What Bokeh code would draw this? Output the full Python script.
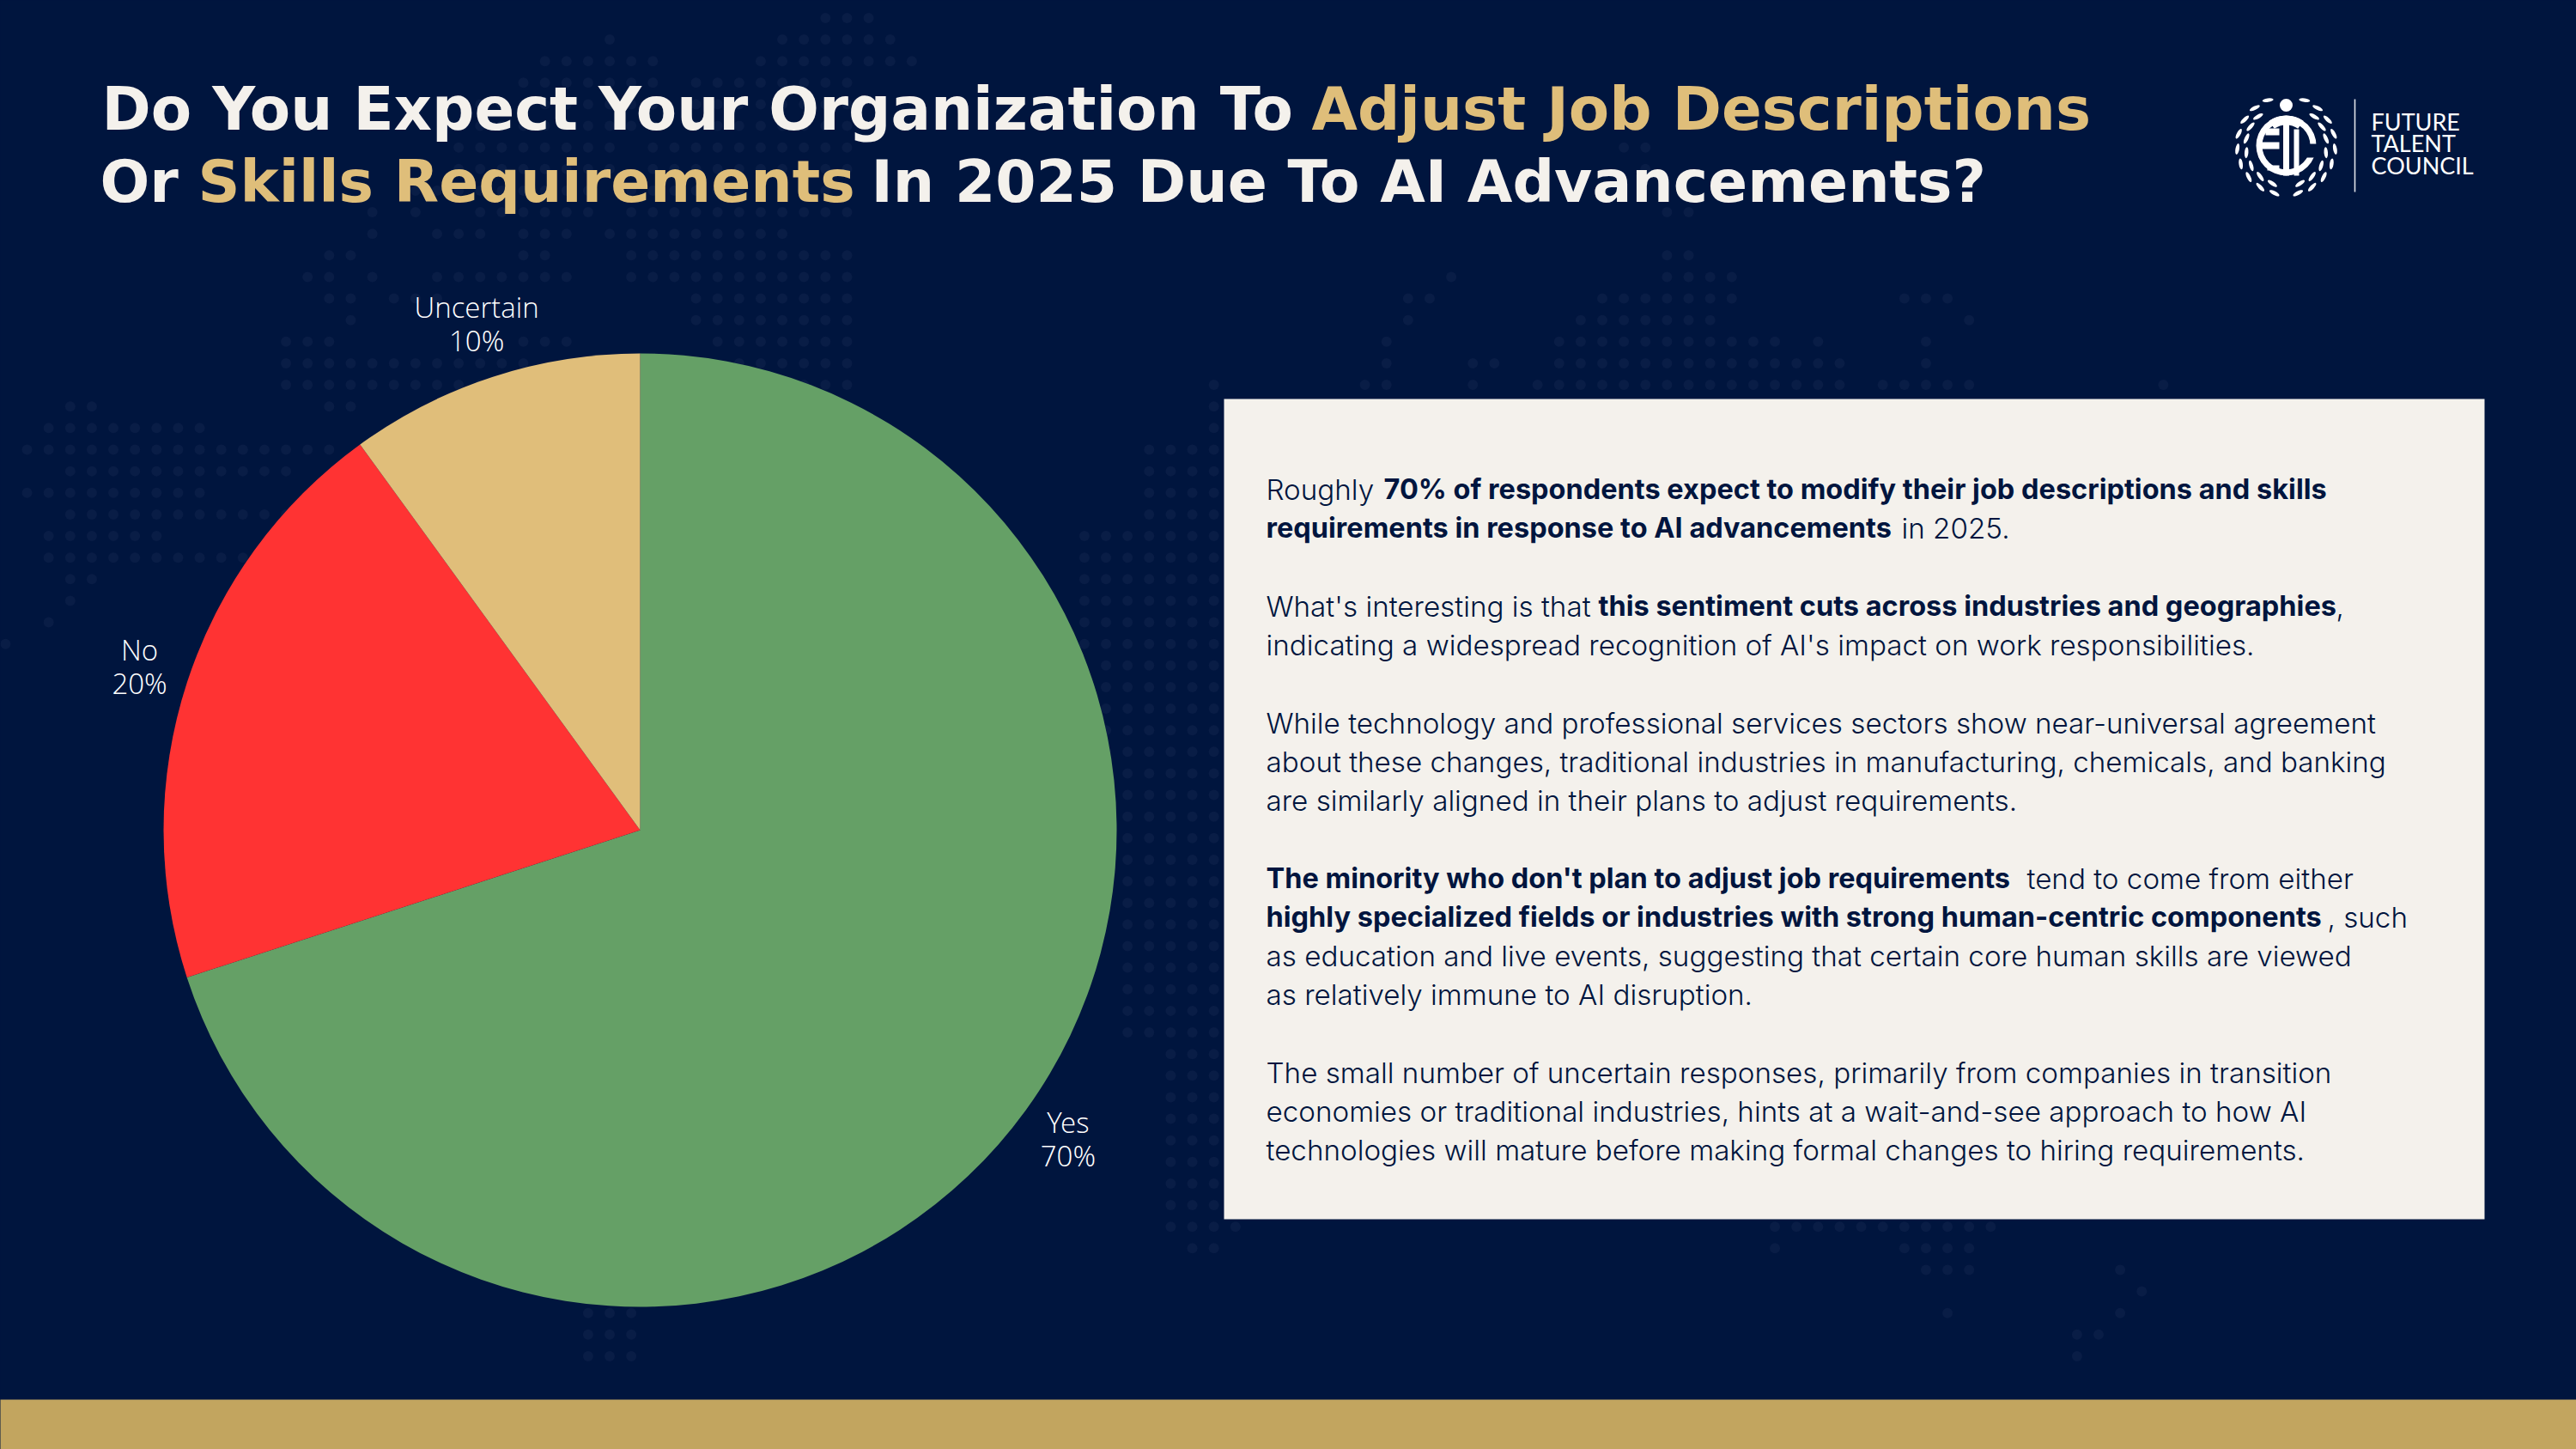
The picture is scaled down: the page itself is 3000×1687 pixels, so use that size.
import numpy as np
from bokeh.plotting import figure
from bokeh.embed import file_html
from bokeh.resources import INLINE
from bokeh.core.properties import value
from bokeh.models import ColumnDataSource

# ---- chart data ----
categories = ["Yes", "No", "Uncertain"]
shares = [70, 20, 10]
slice_colors = ["#65a066", "#ff3333", "#e0be7a"]
label_nudge = [(0, 2), (3, 0), (0, 3)]

BG = "#00153e"; CREAM = "#f4f1ec"; GOLD = "#dfbe7a"; BAND = "#c2a55f"; DOT = "#091d46"
W, H = 3000, 1687
def Y(py): return H - py

# (text, x, baseline, colour, size)
title_runs = [
    ("Do You Expect Your Organization To", 118, 152, CREAM, 69),
    ("Adjust Job Descriptions", 1527, 152, GOLD, 69),
    ("Or", 116, 236, CREAM, 68),
    ("Skills Requirements", 230, 236, GOLD, 68),
    ("In 2025 Due To AI Advancements?", 1014, 236, CREAM, 68),
]
# (text, x, baseline, bold)
body_runs = [
    ("Roughly", 1474, 582, False),
    ("70% of respondents expect to modify their job descriptions and skills", 1611, 582, True),
    ("requirements in response to AI advancements", 1474, 627, True),
    ("in 2025.", 2214, 627, False),
    ("What's interesting is that", 1474, 718, False),
    ("this sentiment cuts across industries and geographies", 1861, 718, True),
    (",", 2720, 718, False),
    ("indicating a widespread recognition of AI's impact on work responsibilities.", 1474, 763, False),
    ("While technology and professional services sectors show near-universal agreement", 1474, 854, False),
    ("about these changes, traditional industries in manufacturing, chemicals, and banking", 1474, 899, False),
    ("are similarly aligned in their plans to adjust requirements.", 1474, 944, False),
    ("The minority who don't plan to adjust job requirements", 1474, 1035, True),
    ("tend to come from either", 2360, 1035, False),
    ("highly specialized fields or industries with strong human-centric components", 1474, 1080, True),
    (", such", 2710, 1080, False),
    ("as education and live events, suggesting that certain core human skills are viewed", 1474, 1125, False),
    ("as relatively immune to AI disruption.", 1474, 1170, False),
    ("The small number of uncertain responses, primarily from companies in transition", 1474, 1261, False),
    ("economies or traditional industries, hints at a wait-and-see approach to how AI", 1474, 1306, False),
    ("technologies will mature before making formal changes to hiring requirements.", 1474, 1351, False),
]
# background dot map: row -> column spans on a regular grid
dot_rows = {
 0:[(38,40)],1:[(28,28),(36,41)],2:[(25,30),(35,42)],3:[(24,30),(32,39)],4:[(22,30),(32,39)],5:[(22,30),(32,39)],
 6:[(21,28),(30,39),(75,76)],7:[(21,28),(30,39),(76,76)],8:[(19,27),(29,39)],9:[(17,17),(19,19),(22,27),(29,39),(77,78)],
 10:[(17,17),(20,22),(24,26),(28,36)],11:[(15,16),(24,25),(29,39),(77,78)],
 12:[(14,15),(17,17),(20,26),(29,39),(67,67),(77,80)],13:[(15,16),(18,20),(32,39),(65,66),(74,80),(88,90)],
 14:[(16,16),(32,39),(65,65),(73,79),(91,91)],15:[(13,15),(24,26),(33,39),(64,64),(72,82),(84,84),(89,89)],
 16:[(13,24),(34,39),(64,64),(68,69),(72,85),(89,89)],17:[(13,24),(34,39),(56,56),(63,64),(68,68),(71,85),(87,91),(100,100)],
 18:[(3,4),(15,16),(56,56)],19:[(2,9),(56,56)],20:[(1,15),(53,56)],21:[(3,13),(53,56)],22:[(1,9),(53,56)],23:[(3,13),(53,56)],
 24:[(2,7),(50,56)],25:[(2,12),(50,56)],26:[(3,4),(50,56)],27:[(3,3),(50,56)],28:[(2,2),(50,56)],29:[(0,0),(50,56)],
 56:[(54,57),(82,92)],57:[(55,56),(82,82),(88,91)],58:[(89,91),(98,98)],59:[(99,99)],60:[(90,90),(98,98)],61:[(96,97)],62:[(96,96)],
}
for j in range(30, 56):
    dot_rows[j] = [(51 if j < 39 else 52 if j < 48 else 54, 56)]
for j, span in {60:[(27,29)],61:[(27,29)],59:[(28,29)],58:[(28,29)],62:[(27,29)]}.items():
    dot_rows[j] = dot_rows.get(j, []) + span

p = figure(width=W, height=H, x_range=(0, W), y_range=(0, H), output_backend="svg",
           toolbar_location=None, min_border=0, background_fill_color=BG, border_fill_color=BG)
p.axis.visible = False
p.grid.visible = False
p.outline_line_color = None

# background dots
dx, dy = [], []
for j, spans in dot_rows.items():
    for a, b in spans:
        for i in range(a, b + 1):
            dx.append(5.9 + 25.13 * i); dy.append(Y(20.4 + 25.13 * j))
p.circle(dx, dy, radius=6, fill_color=DOT, line_color=None)

# gold band and text panel
p.quad(left=-5, right=W + 5, bottom=-5, top=Y(1629), fill_color=BAND, line_color=None)
p.quad(left=1425, right=2893, bottom=Y(1419), top=Y(464), fill_color=CREAM, line_color=None)

# pie, clockwise from 12 o'clock
cx, cy, R = 745, Y(966), 555
frac = np.array(shares, float) / sum(shares)
edges = np.concatenate([[0], np.cumsum(frac)]) * 2 * np.pi
start = np.pi / 2 - edges[1:]
end = np.pi / 2 - edges[:-1]
pie = ColumnDataSource(dict(start=start, end=end, color=slice_colors))
p.wedge(x=cx, y=cy, radius=R, start_angle="start", end_angle="end", fill_color="color",
        line_color=None, source=pie)

# pie labels
mid = (edges[1:] + edges[:-1]) / 2
lx = cx + 1.11 * R * np.sin(mid) + np.array([n[0] for n in label_nudge])
ly = cy + 1.11 * R * np.cos(mid) + np.array([n[1] for n in label_nudge])
lab_font = value("Open Sans Light")
p.text(lx, ly + 20, text=categories, text_font=lab_font, text_font_size="33px", text_color="#ffffff",
       text_align="center", text_baseline="middle")
p.text(lx, ly - 19, text=[f"{s}%" for s in shares], text_font=lab_font, text_font_size="33px", text_color="#ffffff",
       text_align="center", text_baseline="middle")

# title
for t, x, b, c, s in title_runs:
    p.text([x], [Y(b) + 0.36 * 70], text=[t], text_font=value("DejaVu Sans"), text_font_style="bold",
           text_font_size=f"{s}px", text_color=c, text_baseline="alphabetic")

# body text
for t, x, b, bold in body_runs:
    p.text([x], [Y(b) + 0.4 * 32.5], text=[t], text_font=value("Inter" if bold else "Inter Light"),
           text_font_style="bold" if bold else "normal", text_font_size="32.5px" if bold else "33.2px",
           text_color=BG, text_baseline="alphabetic")

# logo
LX, LY = 2662, 169
w = "#ffffff"
p.quad(left=2741.2, right=2742.8, bottom=Y(223), top=Y(115), fill_color="#dfe2e8", line_color=None)
for t, b in (("FUTURE", 152), ("TALENT", 177), ("COUNCIL", 203)):
    p.text([2761], [Y(b) + 0.4 * 27], text=[t], text_font=value("Lato"), text_font_size="27px", text_color=w,
           text_baseline="alphabetic")
p.circle([LX], [Y(122)], radius=7.5, fill_color=w, line_color=None)
p.annulus([LX], [Y(LY)], inner_radius=28, outer_radius=35, fill_color=w, line_color=None)
p.annular_wedge([LX], [Y(LY)], inner_radius=24, outer_radius=35, start_angle=np.radians(55),
                end_angle=np.radians(125), fill_color=w, line_color=None)
def box(x0, x1, y0, y1, col=w):
    p.quad(left=x0, right=x1, bottom=Y(y1), top=Y(y0), fill_color=col, line_color=None)
box(2680, 2698, 167, 183, BG)          # C opening
box(2658.5, 2665.5, 137, 204)          # T stem
box(2671, 2677, 150, 204)              # C stem
box(2638, 2654, 149, 157)              # E upper arm
box(2633, 2654, 165, 173)              # E middle arm
box(2640, 2654, 192, 198)              # E lower arm
# laurel
lx_, ly_, ang = [], [], []
for r, degs in ((57, (14, 32, 50, 68, 86, 104, 122, 140, 158)), (47, (20, 40, 60, 80, 100, 118, 136))):
    for side in (-1, 1):
        for d in degs:
            a = np.radians(d)
            lx_.append(LX + side * r * np.sin(a))
            ly_.append(Y(LY) - r * np.cos(a))
            ang.append(side * (a + 0.25))
p.ellipse(lx_, ly_, width=13, height=4.5, angle=ang, fill_color=w, line_color=None)

html = file_html(p, INLINE)
html = html.replace("<head>", f"<head><style>html,body{{margin:0;background:{BG};overflow:hidden}}</style>", 1)
open("out.html", "w").write(html)
